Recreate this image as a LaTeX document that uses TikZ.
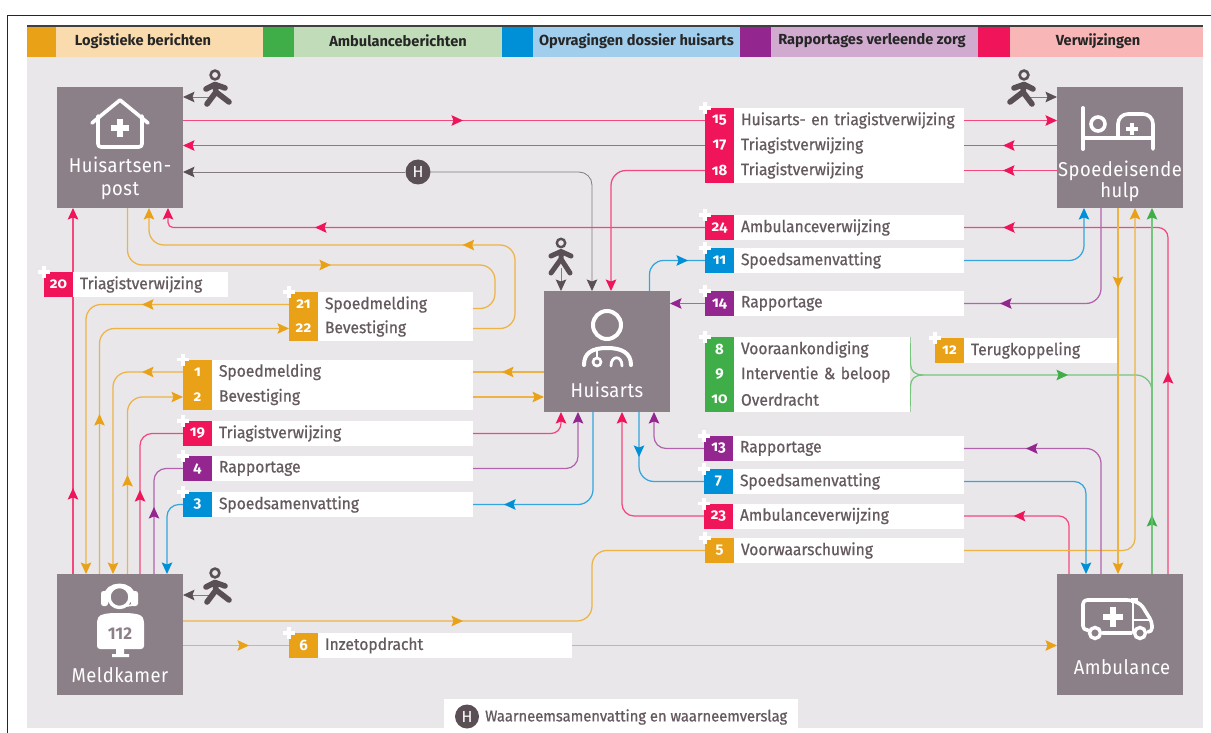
\documentclass[tikz,border=0pt]{standalone}
\usepackage{fontspec}
\setmainfont{Fira Sans}
\newfontfamily\lblf[FakeBold=0.7,FakeStretch=0.945]{Fira Sans}
\newfontfamily\legf{Fira Sans}
\newfontfamily\numf[Numbers=OldStyle]{Fira Sans}
\newfontfamily\ttlf[FakeStretch=0.92,LetterSpace=2.5]{Fira Sans}
\usetikzlibrary{arrows.meta,decorations.markings,calc}
\pgfdeclarelayer{bg}\pgfdeclarelayer{lines}\pgfsetlayers{bg,lines,main}
\definecolor{cor}{HTML}{E9A117}
\definecolor{cpk}{HTML}{F0145A}
\definecolor{cgn}{HTML}{3FAE49}
\definecolor{cbl}{HTML}{0090D7}
\definecolor{cpu}{HTML}{93268F}
\definecolor{cgy}{HTML}{5A4F55}
\definecolor{cbox}{HTML}{8C8088}
\definecolor{cpan}{HTML}{E9E7EA}
\definecolor{ctxt}{HTML}{655A60}
\tikzset{
  tipof/.style={>={Stealth[length=11.5pt,width=10.5pt,inset=2pt,color=#1]}},
  conn/.style={line width=1.25pt,rounded corners=#1},
  conn/.default=13pt,
  lor/.style={draw=cor!80!white,tipof=cor},
  lpk/.style={draw=cpk!78!white,tipof=cpk},
  lgn/.style={draw=cgn!72!white,tipof=cgn},
  lbl/.style={draw=cbl!80!white,tipof=cbl},
  lpu/.style={draw=cpu!72!white,tipof=cpu},
  lgy/.style={draw=cgy!75!white,line width=.8pt,tipof=cgy},
  midtip/.style={postaction={decorate,decoration={markings,mark=at position #1 with {\arrow{>}}}}},
  station/.style={fill=cbox,minimum width=126pt,minimum height=121pt,inner sep=0pt,outer sep=0pt},
  numcell/.style={fill=#1,minimum width=29pt,minimum height=25pt,inner sep=0pt,outer sep=0pt,text=white,font=\numf\bfseries\fontsize{15}{15}\selectfont},
  txtcell/.style={fill=white,minimum height=25pt,inner sep=0pt,outer sep=0pt,text=ctxt,align=left,font=\lblf\fontsize{16.5}{18}\selectfont},
  ttl/.style={text=white,font=\ttlf\fontsize{20}{23}\selectfont,align=center,inner sep=0pt},
  legtxt/.style={text=black!85,font=\legf\bfseries\fontsize{14.6}{16}\selectfont,inner sep=0pt},
  icon/.style={draw=white,line width=3.6pt,line cap=round,line join=round},
  walker/.pic={
    \draw[cgy,line width=2.6pt] (0,0) circle (4.4);
    \draw[cgy,line width=5.6pt,line cap=round,line join=round]
      (-9,14) -- (0,9.5) -- (10,13) (0,9.5) -- (1,17) -- (-8,29) (1,17) -- (14,27);
  },
  frontman/.pic={
    \draw[cgy,line width=2.4pt] (0,0) circle (4.2);
    \draw[cgy,line width=5pt,line cap=round,line join=round]
      (-10,13) -- (0,8.5) -- (10,13) (0,8.5) -- (0,16) -- (-10,30) (0,16) -- (9,30);
  },
}
% \lblrow{id}{number}{colour}{left x}{centre y}{right x}{text}
\newcommand\lblrow[7]{%
  \node[numcell=#3,anchor=west] (n#1) at (#4,#5) {#2};
  \pgfmathsetmacro\cellw{#6-#4-29}%
  \node[txtcell,anchor=west,text width=\cellw pt] (t#1) at (n#1.east) {\hspace*{7pt}\raisebox{-1.5pt}{#7}};
}
\newcommand\plusat[1]{%
  \draw[white,line width=3.6pt] ([xshift=-6pt]#1.north west) -- ([xshift=6pt]#1.north west)
     ([yshift=-6pt]#1.north west) -- ([yshift=6pt]#1.north west);
}
\begin{document}
\begin{tikzpicture}[x=1pt,y=-1pt]
\useasboundingbox (0,0) rectangle (1211,733);
\begin{pgfonlayer}{bg}
  \fill[white] (0,0) rectangle (1211,733);
  \draw[black!85,line width=1.5pt] (7.5,733) -- (7.5,15.5) -- (1211,15.5);
  \fill[cpan] (27,27) rectangle (1203,728);
  \fill[black!75] (27,25) rectangle (1203,27);
\end{pgfonlayer}
% legend
\foreach \nm/\xa/\xb/\xc/\col/\lt in {a/27/56/263/cor/F9DBAE,b/263/294/502/cgn/C1DCB8,c/502/533/740/cbl/A2CEEE,d/740/771/978/cpu/D0ABCF,e/978/1010/1203/cpk/F9B6B6}{
  \fill[\col] (\xa,27) rectangle (\xb,57);
  \definecolor{tmp}{HTML}{\lt}
  \fill[tmp] (\xb,27) rectangle (\xc,57);
}
\node[legtxt] (la) at (143,41) {Logistieke berichten};
\node[legtxt] (lb) at (398,41) {Ambulanceberichten};
\node[legtxt] (lc) at (636.5,41) {Opvragingen dossier huisarts};
\node[legtxt] (ld) at (872,41) {Rapportages verleende zorg};
\node[legtxt] (le) at (1098,41) {Verwijzingen};
% stations
\node[station] (hp) at (120,147.5) {};
\node[station] (seh) at (1120,147.5) {};
\node[station] (hu) at (607,351.5) {};
\node[station] (mk) at (120,634.5) {};
\node[station] (amb) at (1120,634.5) {};
\node[ttl] (hptitle) at (120,178.5) {Huisartsen-\\[-.5pt]post};
\node[ttl] (sehtitle) at (1120,181) {Spoedeisende\\[-2pt]hulp};
\node[ttl] (hutitle) at (607,390) {Huisarts};
\node[ttl] (mktitle) at (120,675) {Meldkamer};
\node[ttl] (ambtitle) at (1122,667) {Ambulance};
% labels
\lblrow{15}{15}{cpk}{705}{120.5}{964}{Huisarts- en triagistverwijzing}
\lblrow{17}{17}{cpk}{705}{145.5}{964}{Triagistverwijzing}
\lblrow{18}{18}{cpk}{705}{170.5}{964}{Triagistverwijzing}
\lblrow{24}{24}{cpk}{705}{227.5}{964}{Ambulanceverwijzing}
\lblrow{11}{11}{cbl}{705}{260.5}{964}{Spoedsamenvatting}
\lblrow{14}{14}{cpu}{705}{303.5}{964}{Rapportage}
\lblrow{8}{8}{cgn}{705}{349.5}{910}{Vooraankondiging}
\lblrow{9}{9}{cgn}{705}{374.5}{910}{Interventie \& beloop}
\lblrow{10}{10}{cgn}{705}{399.5}{910}{Overdracht}
\lblrow{12}{12}{cor}{935}{350.5}{1117}{Terugkoppeling}
\lblrow{13}{13}{cpu}{704}{448.5}{964}{Rapportage}
\lblrow{7}{7}{cbl}{704}{481.5}{964}{Spoedsamenvatting}
\lblrow{23}{23}{cpk}{704}{516}{964}{Ambulanceverwijzing}
\lblrow{5}{5}{cor}{705}{550.5}{964}{Voorwaarschuwing}
\lblrow{20}{20}{cpk}{44}{284.5}{228}{Triagistverwijzing}
\lblrow{21}{21}{cor}{289}{304.5}{473}{Spoedmelding}
\lblrow{22}{22}{cor}{289}{328.5}{473}{Bevestiging}
\lblrow{1}{1}{cor}{183}{372}{473}{Spoedmelding}
\lblrow{2}{2}{cor}{183}{397}{473}{Bevestiging}
\lblrow{19}{19}{cpk}{183}{433.5}{473}{Triagistverwijzing}
\lblrow{4}{4}{cpu}{183}{468.5}{473}{Rapportage}
\lblrow{3}{3}{cbl}{183}{504.5}{473}{Spoedsamenvatting}
\lblrow{6}{6}{cor}{289}{645.5}{572}{Inzetopdracht}
\foreach \k in {15,24,11,14,8,12,13,7,23,5,20,21,1,19,4,3,6}{\plusat{n\k}}
% H marks
\node[circle,fill=cgy,text=white,minimum size=25pt,inner sep=0pt,font=\fontsize{16}{16}\selectfont] (hh) at (418,172) {H};
\node[fill=white,minimum width=354pt,minimum height=29pt,inner sep=0pt,outer sep=0pt] (hlegbox) at (621,713.5) {};
\node[circle,fill=cgy,text=white,minimum size=24pt,inner sep=0pt,font=\fontsize{16}{16}\selectfont] (hkey) at (467,716.5) {H};
\node[anchor=west,inner sep=0pt,text=ctxt,font=\lblf\fontsize{15.6}{17}\selectfont] (hkeytxt) at (485,717) {Waarneemsamenvatting en waarneemverslag};
% walkers
\pic at (215,75) {walker};
\pic[xscale=-1] at (1024,75) {walker};
\pic at (215,573) {walker};
\pic at (561,243) {frontman};
\coordinate (w1) at (212,97);
\coordinate (w2) at (1030,97);
\coordinate (w3) at (210,595);
\coordinate (w4) at (561,268);
% connectors
\begin{pgfonlayer}{lines}
\draw[lgy,->] (w1) -- (hp.east |- w1);
\draw[lgy,->] (w2) -- (seh.west |- w2);
\draw[lgy,->] (w3) -- (mk.east |- w3);
\draw[lgy,->] (w4) -- (w4 |- hu.north);
\draw[lgy,rounded corners=13pt,->] (hh) -- (hp.east |- hh);
\draw[lgy,rounded corners=13pt,->] (hh) -| ([xshift=-15pt]hu.north);
% pink
\draw[lpk,conn,midtip=280pt] (hp.east |- n15.west) -- (n15.west);
\draw[lpk,conn,->] (t15.east) -- (seh.west |- t15.east);
\draw[lpk,conn,midtip=54pt] (seh.west |- t17.east) -- (t17.east);
\draw[lpk,conn,->] (n17.west) -- (hp.east |- n17.west);
\draw[lpk,conn,midtip=54pt] (seh.west |- t18.east) -- (t18.east);
\draw[lpk,conn=15pt,->] (n18.west) -| ([xshift=4pt]hu.north);
\draw[lpk,conn=10pt,midtip=202pt,midtip=507pt] ([xshift=48pt]amb.north) |- (t24.east);
\draw[lpk,conn=5pt,midtip=390pt,->] (n24.west) -| ([xshift=48pt]hp.south);
\draw[lpk,conn,midtip=86pt,->] ([xshift=-47pt]mk.north) -- ([xshift=-47pt]hp.south);
\draw[lpk,conn=12pt,midtip=84pt] ([xshift=20pt]mk.north) |- (n19.west);
\draw[lpk,conn=10pt,->] (t19.east) -| ([xshift=-46pt]hu.south);
\draw[lpk,conn=10pt,midtip=109pt] ([xshift=-51pt]amb.north) |- (t23.east);
\draw[lpk,conn=12pt,->] (n23.west) -| ([xshift=15pt]hu.south);
% green
\draw[lgn,conn,midtip=59pt,->] ([xshift=32pt]amb.north) -- ([xshift=32pt]seh.south);
\coordinate (gj) at (923,375);
\draw[lgn,line width=1.25pt] (t8.north east) -- (910.5,364) .. controls (910.5,371) and (915,375) .. (gj);
\draw[lgn,line width=1.25pt] (t10.south east) -- (910.5,386) .. controls (910.5,379) and (915,375) .. (gj);
\draw[lgn,conn=16pt,midtip=145pt] (gj) -| ([xshift=32pt]amb.north);
% orange
\draw[lor,conn=15pt,midtip=254pt] ([xshift=7.5pt]hp.south) -- (127.5,265) -- (495,265) -- (495,308.5) -- ([yshift=-4pt]t21.east);
\draw[lor,conn=15pt,midtip=165pt,->] (t22.east) -| (515,245) -| ([xshift=29pt]hp.south);
\draw[lor,conn=15pt,midtip=147pt,->] (n21.west) -| ([xshift=-34pt]mk.north);
\draw[lor,conn=15pt,midtip=160pt,->] ([xshift=-20.5pt]mk.north) |- (n22.west);
\draw[lor,conn=15pt,midtip=41pt,->] (n1.west) -| ([xshift=-7pt]mk.north);
\draw[lor,conn=15pt,midtip=99pt,->] ([xshift=7.5pt]mk.north) |- (n2.west);
\draw[lor,conn,midtip=42pt] (hu.west |- t1.east) -- (t1.east);
\draw[lor,conn,->] (t2.east) -- (hu.west |- t2.east);
\draw[lor,conn=15pt,midtip=280pt] ([yshift=13.5pt]mk.east) -- (592,621) -- (592,550.5) -- (n5.west);
\draw[lor,conn=12pt,->] (t5.east) -| ([xshift=15pt]seh.south);
\draw[lor,conn,midtip=80pt,->] ([xshift=-2pt]seh.south) -- ([xshift=-2pt]amb.north);
\draw[lor,conn,midtip=66pt] (mk.east |- n6.west) -- (n6.west);
\draw[lor,conn,->] (t6.east) -- (amb.west |- t6.east);
% blue
\draw[lbl,conn=14pt,midtip=63pt] ([xshift=42.5pt]hu.north) |- (n11.west);
\draw[lbl,conn=15pt,->] (t11.east) -| ([xshift=-36pt]seh.south);
\draw[lbl,conn=15pt,midtip=175pt] ([xshift=-14pt]hu.south) |- (t3.east);
\draw[lbl,conn=12pt,->] (n3.west) -| ([xshift=47pt]mk.north);
\draw[lbl,conn=15pt,midtip=45pt] ([xshift=32pt]hu.south) |- (n7.west);
\draw[lbl,conn=12pt,->] (t7.east) -| ([xshift=-34pt]amb.north);
% purple
\draw[lpu,conn=15pt,midtip=190pt] ([xshift=-19pt]seh.south) |- (t14.east);
\draw[lpu,conn,->] (n14.west) -- (hu.east |- n14.west);
\draw[lpu,conn=15pt,midtip=194pt] ([xshift=-19pt]amb.north) |- (t13.east);
\draw[lpu,conn=12pt,->] (n13.west) -| ([xshift=47pt]hu.south);
\draw[lpu,conn=12pt,midtip=67pt] ([xshift=34pt]mk.north) |- (n4.west);
\draw[lpu,conn=12pt,->] (t4.east) -| ([xshift=-29pt]hu.south);
\end{pgfonlayer}
% icons: house
\draw[icon] (92,123) -- (120,100) -- (148,123);
\draw[icon,rounded corners=3pt] (98,116) -- (98,147) -- (142,147) -- (142,116);
\draw[white,line width=5.5pt] (111,128) -- (129,128) (120,119) -- (120,137);
% bed
\draw[icon,line width=4pt] (1083,108) -- (1083,149) (1083,138) -- (1153,138);
\draw[icon,rounded corners=10pt] (1118,138) -- (1118,114) -- (1153,114) -- (1153,149);
\draw[white,line width=3.2pt] (1126,129) -- (1138,129) (1132,123) -- (1132,135);
\draw[white,line width=3.6pt] (1098,124) circle (7);
% doctor
\draw[white,line width=4pt] (607,325) circle (14);
\draw[icon,line width=4pt] (584,365) .. controls (584,353) and (592,348) .. (607,348) .. controls (622,348) and (631,353) .. (631,365);
\draw[white,line width=2.6pt] (597,362) circle (4);
\draw[white,line width=2.6pt] (597,350) -- (597,358);
\draw[white,line width=2.8pt,line cap=round] (611,366) .. controls (611,355) and (622,355) .. (622,366);
% operator
\draw[white,line width=3.4pt] (119.5,597) circle (10.5);
\draw[white,line width=3.4pt] (105,598) .. controls (105,581) and (134,581) .. (134,598);
\fill[white,rounded corners=2.5pt] (101,591) rectangle (108,606);
\fill[white,rounded corners=2.5pt] (131,591) rectangle (138,606);
\draw[white,line width=1.8pt] (119,607) -- (133,605);
\fill[white,rounded corners=3pt] (97,629) -- (97,620) .. controls (100,614) and (108,613) .. (120,613) .. controls (132,613) and (141,614) .. (144,620) -- (144,649) -- (97,649) -- cycle;
\fill[white] (116,649) rectangle (124,655) (112,654) rectangle (129,657);
\node[inner sep=0pt,font=\numf\bfseries\fontsize{17}{17}\selectfont,text=cbox] (n112) at (120,634) {\addfontfeature{Numbers=Lining}112};
% ambulance
\draw[icon,rounded corners=4pt] (1088,630) -- (1083,630) -- (1083,600) -- (1131,600) -- (1141,604) -- (1152,622) -- (1152,632) -- (1148,632);
\draw[icon] (1103,633) -- (1131,633);
\draw[icon,line width=2.6pt] (1133,600) -- (1133,632);
\draw[icon,line width=2.6pt] (1133,620) -- (1151,620);
\fill[white] (1131,598) rectangle (1138,603);
\draw[white,line width=6pt] (1103,617) -- (1123,617) (1113,607) -- (1113,627);
\draw[white,line width=3.4pt,fill=cbox] (1095,633) circle (5.5);
\draw[white,line width=3.4pt,fill=cbox] (1140,633) circle (5.5);
\end{tikzpicture}
\end{document}
